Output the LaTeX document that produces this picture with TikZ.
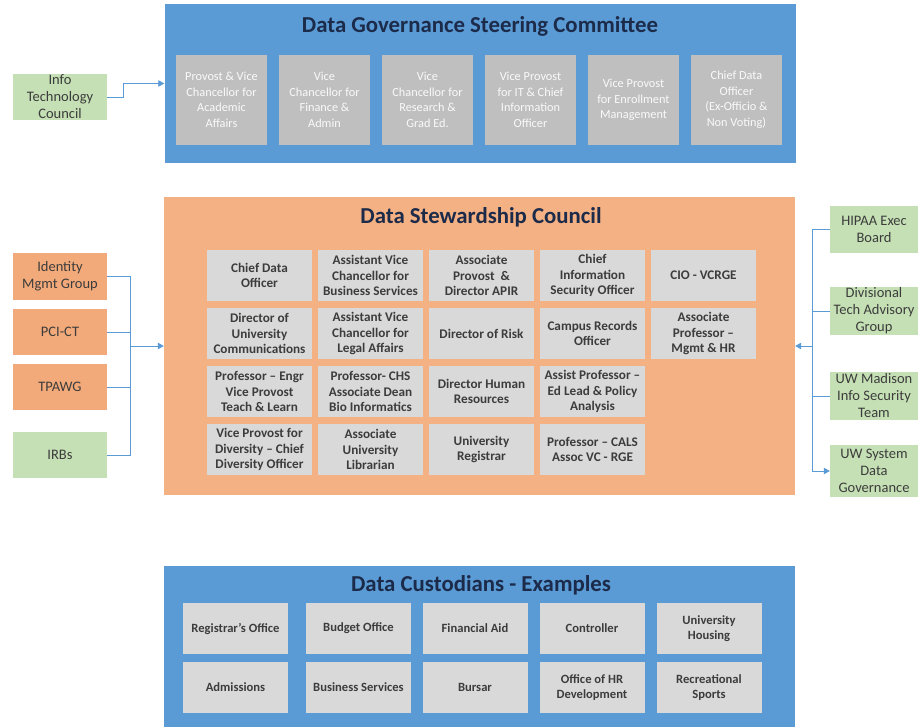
\documentclass[tikz,border=0pt]{standalone}
\usepackage{fontspec}
\setmainfont{Carlito}
\usetikzlibrary{arrows.meta}

\definecolor{panelblue}{HTML}{5B9BD5}
\definecolor{panelorange}{HTML}{F4B183}
\definecolor{sideorange}{HTML}{F3AA7A}
\definecolor{sidegreen}{HTML}{C5E0B4}
\definecolor{seatgray}{HTML}{BFBFBF}
\definecolor{membergray}{HTML}{D9D9D9}
\definecolor{titlenavy}{HTML}{1C2B4A}
\definecolor{textgray}{HTML}{3C3C3C}

\tikzset{
  panel/.style={inner sep=0pt, minimum width=631pt},
  heading/.style={inner sep=0pt, text=titlenavy, font=\fontsize{22.8}{26}\selectfont\bfseries},
  seat/.style={fill=seatgray, inner sep=0pt, minimum width=91pt, minimum height=90pt,
    align=center, text=white!93!seatgray, font=\fontsize{12.3}{15.5}\selectfont},
  member/.style={fill=membergray, inner sep=0pt, minimum width=105pt, minimum height=51pt,
    align=center, text=textgray, font=\fontsize{13.2}{15.5}\selectfont\bfseries},
  custodian/.style={fill=membergray, inner sep=0pt, minimum width=105pt, minimum height=51pt,
    align=center, text=textgray, font=\fontsize{12.6}{15}\selectfont\bfseries},
  sidebox/.style={inner sep=0pt, minimum width=94pt, minimum height=46pt,
    align=center, text=textgray, font=\fontsize{14.5}{17}\selectfont},
  link/.style={draw=panelblue, line width=0.8pt},
  feed/.style={link, -{Triangle[length=6pt, width=6.5pt]}}
}

\begin{document}
\begin{tikzpicture}[x=1pt, y=-1pt]
  \useasboundingbox (0,0) rectangle (919,728);

  % Steering committee
  \node [panel, fill=panelblue, minimum height=159pt] (dgsc) at (480,83.5) {};
  \node [heading] (dgsctitle) at (480,26) {Data Governance Steering Committee};
  \node [seat] (s1) at (221.5,100) {Provost \& Vice\\Chancellor for\\Academic\\Affairs};
  \node [seat] (s2) at (324.5,100) {Vice\\Chancellor for\\Finance \&\\Admin};
  \node [seat] (s3) at (427.5,100) {Vice\\Chancellor for\\Research \&\\Grad Ed.};
  \node [seat] (s4) at (530.5,100) {Vice Provost\\for IT \& Chief\\Information\\Officer};
  \node [seat] (s5) at (633.5,100) {Vice Provost\\for Enrollment\\Management};
  \node [seat] (s6) at (736.5,100) {Chief Data\\Officer\\(Ex-Officio \&\\Non Voting)};

  % Info technology council
  \node [sidebox, fill=sidegreen] (itc) at (60,97) {Info\\Technology\\Council};
  \draw [feed] (itc.east) -- ++(16,0) |- (dgsc.west);

  % Stewardship council
  \node [panel, fill=panelorange, minimum height=298pt] (dsc) at (479.5,346) {};
  \node [heading] (dsctitle) at (481,217) {Data Stewardship Council};

  \node [member] (m11) at (259.5,275.5) {Chief Data\\Officer};
  \node [member] (m12) at (370.5,275.5) {Assistant Vice\\Chancellor for\\Business Services};
  \node [member] (m13) at (481.5,275.5) {Associate\\Provost \ \&\\Director APIR};
  \node [member] (m14) at (592.5,275.5) {Chief\\Information\\Security Officer};
  \node [member] (m15) at (703.5,275.5) {CIO - VCRGE};

  \node [member] (m21) at (259.5,333.5) {Director of\\University\\Communications};
  \node [member] (m22) at (370.5,333.5) {Assistant Vice\\Chancellor for\\Legal Affairs};
  \node [member] (m23) at (481.5,333.5) {Director of Risk};
  \node [member] (m24) at (592.5,333.5) {Campus Records\\Officer};
  \node [member] (m25) at (703.5,333.5) {Associate\\Professor --\\Mgmt \& HR};

  \node [member] (m31) at (259.5,391.5) {Professor -- Engr\\Vice Provost\\Teach \& Learn};
  \node [member] (m32) at (370.5,391.5) {Professor- CHS\\Associate Dean\\Bio Informatics};
  \node [member] (m33) at (481.5,391.5) {Director Human\\Resources};
  \node [member] (m34) at (592.5,391.5) {Assist Professor --\\Ed Lead \& Policy\\Analysis};

  \node [member] (m41) at (259.5,449.5) {Vice Provost for\\Diversity -- Chief\\Diversity Officer};
  \node [member] (m42) at (370.5,449.5) {Associate\\University\\Librarian};
  \node [member] (m43) at (481.5,449.5) {University\\Registrar};
  \node [member] (m44) at (592.5,449.5) {Professor -- CALS\\Assoc VC - RGE};

  % Left groups
  \node [sidebox, fill=sideorange, minimum height=47pt] (img) at (60,276.5) {Identity\\Mgmt Group};
  \node [sidebox, fill=sideorange] (pci) at (60,332) {PCI-CT};
  \node [sidebox, fill=sideorange] (tpawg) at (60,387) {TPAWG};
  \node [sidebox, fill=sidegreen] (irb) at (60,455) {IRBs};
  \coordinate (lbus) at (130,346);
  \draw [link] (img.east) -| (lbus);
  \draw [link] (pci.east) -| (lbus);
  \draw [link] (tpawg.east) -| (lbus);
  \draw [link] (irb.east) -| (lbus);
  \draw [feed] (lbus) -- (dsc.west);

  % Right groups
  \node [sidebox, fill=sidegreen, minimum width=88pt, minimum height=47pt] (hipaa) at (874,229) {HIPAA Exec\\Board};
  \node [sidebox, fill=sidegreen, minimum width=88pt, minimum height=48pt] (dtag) at (874,311) {Divisional\\Tech Advisory\\Group};
  \node [sidebox, fill=sidegreen, minimum width=88pt, minimum height=48pt] (uwm) at (874,396) {UW Madison\\Info Security\\Team};
  \node [sidebox, fill=sidegreen, minimum width=88pt, minimum height=52pt] (uws) at (874,471) {UW System\\Data\\Governance};
  \coordinate (rbus) at (812,346);
  \draw [link] (hipaa.west) -| (rbus);
  \draw [link] (dtag.west) -| (rbus);
  \draw [link] (uwm.west) -| (rbus);
  \draw [feed] (rbus) -- (dsc.east);
  \draw [feed] (rbus) |- (uws.west);

  % Custodians
  \node [panel, fill=panelblue, minimum height=161pt] (dce) at (479.5,646.5) {};
  \node [heading] (dcetitle) at (481,585) {Data Custodians - Examples};
  \node [custodian] (c11) at (235.5,628.5) {Registrar's Office};
  \node [custodian] (c12) at (358.5,628.5) {Budget Office};
  \node [custodian] (c13) at (475,628.5) {Financial Aid};
  \node [custodian] (c14) at (592,628.5) {Controller};
  \node [custodian] (c15) at (709,628.5) {University\\Housing};
  \node [custodian] (c21) at (235.5,687.5) {Admissions};
  \node [custodian] (c22) at (358.5,687.5) {Business Services};
  \node [custodian] (c23) at (475,687.5) {Bursar};
  \node [custodian] (c24) at (592,687.5) {Office of HR\\Development};
  \node [custodian] (c25) at (709,687.5) {Recreational\\Sports};
\end{tikzpicture}
\end{document}
